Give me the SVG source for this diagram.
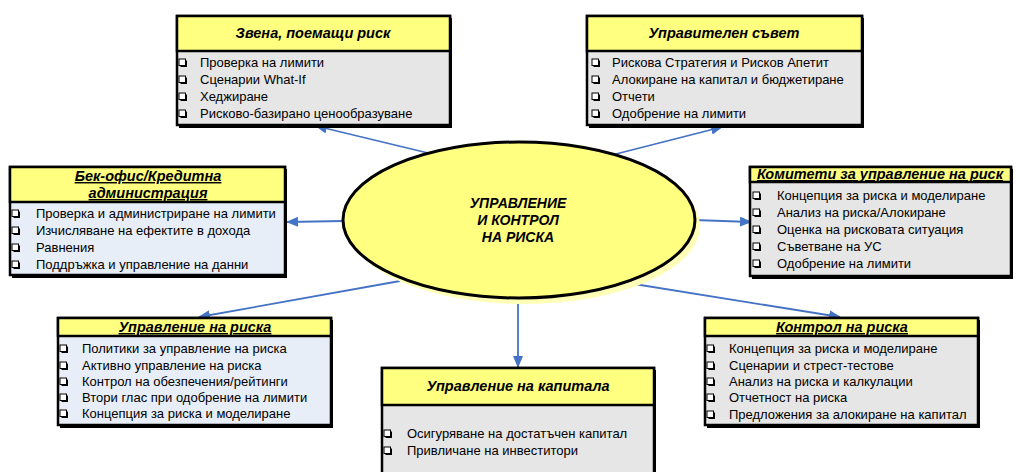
<svg xmlns="http://www.w3.org/2000/svg" xmlns:xlink="http://www.w3.org/1999/xlink" width="1017" height="472" viewBox="0 0 1017 472">
<style>
.body{stroke:#000;stroke-width:2.5}
.gray{fill:#E6E6E6}
.blue{fill:#E8EEF7}
.hdr{fill:#FFFF80;stroke:#000;stroke-width:2.5}
.shadow{fill:#000}
.ht{font-family:"Liberation Sans",Arial,sans-serif;font-weight:bold;font-style:italic;font-size:14.5px;fill:#000;text-anchor:middle}
.u{text-decoration:underline}
.it{font-family:"Liberation Sans",Arial,sans-serif;font-size:13px;fill:#000}
.conn{stroke:#4472C4;stroke-width:1.8;fill:none;marker-end:url(#arr)}
.ct{font-family:"Liberation Sans",Arial,sans-serif;font-weight:bold;font-style:italic;font-size:14px;fill:#000;text-anchor:middle}
</style>
<defs>
<marker id="arr" markerWidth="12" markerHeight="10" refX="11" refY="5" orient="auto" markerUnits="userSpaceOnUse">
<path d="M0,0 L12,5 L0,10 Z" fill="#4472C4"/>
</marker>
<symbol id="cb" viewBox="0 0 9 9" width="9" height="9" overflow="visible">
<rect x="1.5" y="1.5" width="6.5" height="6.5" fill="#000"/>
<rect x="0" y="0" width="6.5" height="6.5" fill="#fff" stroke="#000" stroke-width="1"/>
</symbol>
</defs>
<rect width="1017" height="472" fill="#fff"/>

<g id="connectors">
<line class="conn" x1="428" y1="153" x2="316" y2="126"/>
<line class="conn" x1="612" y1="155" x2="722" y2="127"/>
<line class="conn" x1="343" y1="221" x2="287" y2="222"/>
<line class="conn" x1="694" y1="220" x2="751" y2="222"/>
<line class="conn" x1="400" y1="281" x2="199" y2="317"/>
<line class="conn" x1="628" y1="283" x2="840" y2="317"/>
<line class="conn" x1="518" y1="298" x2="518" y2="367"/>
</g>

<g id="center">
<ellipse cx="524" cy="226" rx="176" ry="78" fill="#FFFFB8"/>
<ellipse cx="519" cy="220" rx="176" ry="78" fill="#FFFF80" stroke="#000" stroke-width="3"/>
<text class="ct" x="518" y="208">УПРАВЛЕНИЕ</text>
<text class="ct" x="518" y="225">И КОНТРОЛ</text>
<text class="ct" x="518" y="242">НА РИСКА</text>
</g>

<g id="box1">
<rect class="shadow" x="179" y="18" width="273" height="110"/>
<rect class="body gray" x="177" y="16" width="273" height="109"/>
<rect class="hdr" x="177" y="16" width="273" height="35"/>
<text class="ht" x="313" y="38">Звена, поемащи риск</text>
<use href="#cb" x="179" y="59"/><text class="it" x="200" y="67">Проверка на лимити</text>
<use href="#cb" x="179" y="76"/><text class="it" x="200" y="84">Сценарии What-If</text>
<use href="#cb" x="179" y="93"/><text class="it" x="200" y="101">Хеджиране</text>
<use href="#cb" x="179" y="110"/><text class="it" x="200" y="118">Рисково-базирано ценообразуване</text>
</g>

<g id="box2">
<rect class="shadow" x="589" y="18" width="275" height="110"/>
<rect class="body gray" x="587" y="16" width="275" height="109"/>
<rect class="hdr" x="587" y="16" width="275" height="35"/>
<text class="ht" x="724" y="38">Управителен съвет</text>
<use href="#cb" x="592" y="59"/><text class="it" x="612" y="67">Рискова Стратегия и Рисков Апетит</text>
<use href="#cb" x="592" y="76"/><text class="it" x="612" y="84">Алокиране на капитал и бюджетиране</text>
<use href="#cb" x="592" y="93"/><text class="it" x="612" y="101">Отчети</text>
<use href="#cb" x="592" y="110"/><text class="it" x="612" y="118">Одобрение на лимити</text>
</g>

<g id="box3">
<rect class="shadow" x="12" y="169" width="275" height="109"/>
<rect class="body blue" x="10" y="167" width="275" height="108"/>
<rect class="hdr" x="10" y="167" width="275" height="35"/>
<text class="ht u" x="148" y="181">Бек-офис/Кредитна</text>
<text class="ht u" x="148" y="198">администрация</text>
<use href="#cb" x="12" y="210"/><text class="it" x="36" y="218">Проверка и администриране на лимити</text>
<use href="#cb" x="12" y="227"/><text class="it" x="36" y="235">Изчисляване на ефектите в дохода</text>
<use href="#cb" x="12" y="244"/><text class="it" x="36" y="252">Равнения</text>
<use href="#cb" x="12" y="261"/><text class="it" x="36" y="269">Поддръжка и управление на данни</text>
</g>

<g id="box4">
<rect class="shadow" x="752" y="169" width="261" height="110"/>
<rect class="body gray" x="750" y="167" width="261" height="109"/>
<rect class="hdr" x="750" y="167" width="261" height="15"/>
<text class="ht u" x="880" y="179">Комитети за управление на риск</text>
<use href="#cb" x="753" y="192"/><text class="it" x="777" y="200">Концепция за риска и моделиране</text>
<use href="#cb" x="753" y="209"/><text class="it" x="777" y="217">Анализ на риска/Алокиране</text>
<use href="#cb" x="753" y="226"/><text class="it" x="777" y="234">Оценка на рисковата ситуация</text>
<use href="#cb" x="753" y="243"/><text class="it" x="777" y="251">Съветване на УС</text>
<use href="#cb" x="753" y="260"/><text class="it" x="777" y="268">Одобрение на лимити</text>
</g>

<g id="box5">
<rect class="shadow" x="60" y="320" width="273" height="108"/>
<rect class="body blue" x="58" y="318" width="273" height="107"/>
<rect class="hdr" x="58" y="318" width="273" height="18"/>
<text class="ht u" x="195" y="332">Управление на риска</text>
<use href="#cb" x="60" y="345"/><text class="it" x="82" y="353">Политики за управление на риска</text>
<use href="#cb" x="60" y="362"/><text class="it" x="82" y="370">Активно управление на риска</text>
<use href="#cb" x="60" y="378"/><text class="it" x="82" y="386">Контрол на обезпечения/рейтинги</text>
<use href="#cb" x="60" y="394"/><text class="it" x="82" y="402">Втори глас при одобрение на лимити</text>
<use href="#cb" x="60" y="410"/><text class="it" x="82" y="418">Концепция за риска и моделиране</text>
</g>

<g id="box6">
<rect class="shadow" x="707" y="320" width="273" height="108"/>
<rect class="body gray" x="705" y="318" width="273" height="107"/>
<rect class="hdr" x="705" y="318" width="273" height="18"/>
<text class="ht u" x="842" y="332">Контрол на риска</text>
<use href="#cb" x="707" y="345"/><text class="it" x="729" y="353">Концепция за риска и моделиране</text>
<use href="#cb" x="707" y="362"/><text class="it" x="729" y="370">Сценарии и стрест-тестове</text>
<use href="#cb" x="707" y="378"/><text class="it" x="729" y="386">Анализ на риска и калкулации</text>
<use href="#cb" x="707" y="394"/><text class="it" x="729" y="402">Отчетност на риска</text>
<use href="#cb" x="707" y="411"/><text class="it" x="729" y="419">Предложения за алокиране на капитал</text>
</g>

<g id="box7">
<rect class="shadow" x="384" y="370" width="272" height="110"/>
<rect class="body gray" x="382" y="368" width="272" height="110"/>
<rect class="hdr" x="382" y="368" width="272" height="37"/>
<text class="ht" x="518" y="391">Управление на капитала</text>
<use href="#cb" x="384" y="430"/><text class="it" x="407" y="438">Осигуряване на достатъчен капитал</text>
<use href="#cb" x="384" y="447"/><text class="it" x="407" y="455">Привличане на инвеститори</text>
</g>
</svg>
